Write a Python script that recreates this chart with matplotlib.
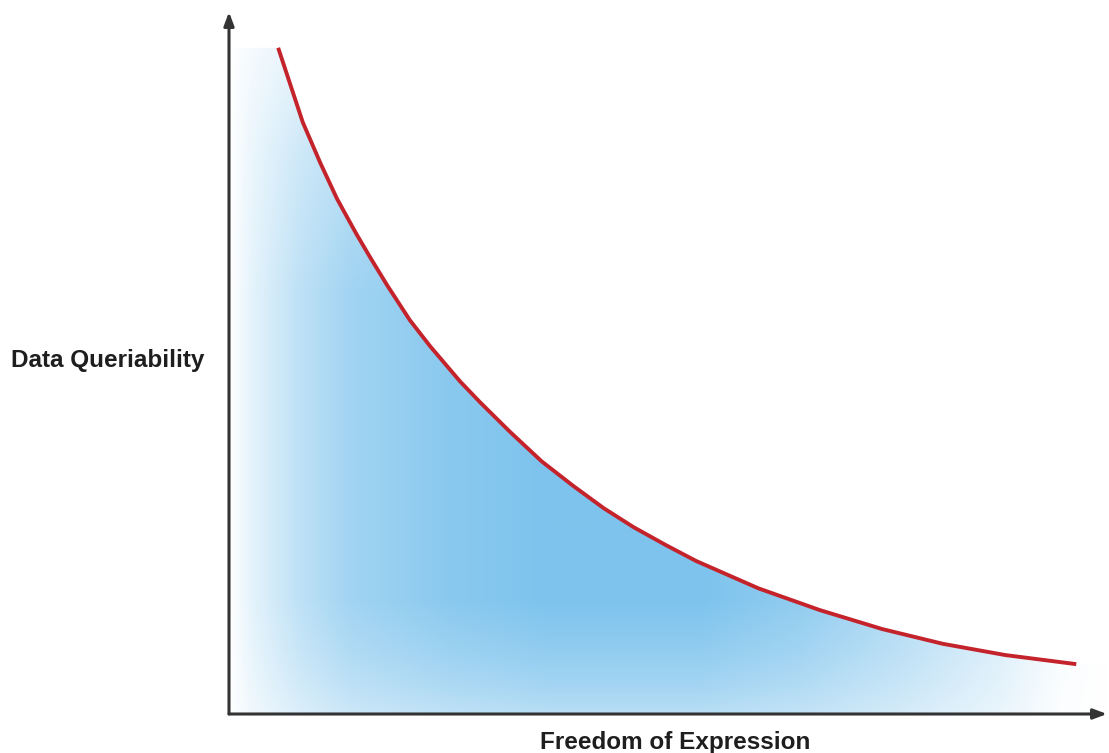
import numpy as np
import matplotlib
matplotlib.use("Agg")
import matplotlib.pyplot as plt
from matplotlib.patches import Polygon

# ===============================
# DATA (curve, axis units 0..100)
# ===============================
freedom = [5.6, 8.4, 10.4, 12.3, 14.5, 16.1, 18.0, 20.6, 22.9, 26.3, 28.6, 32.0,
           35.6, 39.2, 42.7, 46.1, 49.7, 53.2, 60.3, 67.3, 74.4, 81.3, 88.4, 96.5]
queriability = [94.9, 84.3, 78.5, 73.4, 68.4, 65.0, 61.1, 56.1, 52.4, 47.4, 44.4, 40.2,
                36.0, 32.5, 29.3, 26.6, 24.1, 21.8, 17.9, 14.8, 12.1, 10.0, 8.4, 7.1]

x_label = "Freedom of Expression"
y_label = "Data Queriability"

# ===============================
# FIGURE
# ===============================
W, H = 1109, 753
fig = plt.figure(figsize=(W / 100, H / 100), dpi=100)
ax = fig.add_axes([229 / W, (H - 714) / H, (1107 - 229) / W, (714 - 12) / H])
ax.set_xlim(0, 100)
ax.set_ylim(0, 100)
ax.axis("off")

# blue gradient under the curve (fades out at the edges)
gx = np.linspace(0, 100, 600)
gy = np.linspace(0, 100, 500)
fx = np.interp(gx, [0, 2.5, 8, 13.8, 25, 36.5, 53.6, 65, 76.4, 87.8, 94.6, 100],
               [0, 0.2, 0.5, 0.72, 0.9, 1, 1, 0.85, 0.6, 0.3, 0.05, 0])
fy = np.interp(gy, [0, 4, 9.1, 16.2, 60, 80, 96, 100], [0.55, 0.7, 0.85, 1, 1, 0.75, 0.35, 0.3])
inten = fy[:, None] * fx[None, :]
dark = np.array([125, 195, 237]) / 255.0
rgb = 1 - inten[..., None] * (1 - dark)
im = ax.imshow(rgb, extent=(0, 100, 0, 100), origin="lower", aspect="auto",
               interpolation="bilinear", zorder=1)
poly_pts = [(0, 0), (0, queriability[0])] + list(zip(freedom, queriability)) + \
           [(100, queriability[-1]), (100, 0)]
clip = Polygon(poly_pts, closed=True, transform=ax.transData, facecolor="none", edgecolor="none")
ax.add_patch(clip)
im.set_clip_path(clip)

# curve
ax.plot(freedom, queriability, color="#c4232b", lw=2.8, solid_capstyle="butt",
        solid_joinstyle="round", zorder=3)

# axes with arrows
arrow = dict(arrowstyle="-|>,head_length=0.8,head_width=0.3", color="#333333",
             lw=2.2, shrinkA=0, shrinkB=0)
ax.annotate("", xy=(0, 1), xytext=(0, 0), xycoords="axes fraction",
            arrowprops=arrow, annotation_clip=False, zorder=4)
ax.annotate("", xy=(1, 0), xytext=(0, 0), xycoords="axes fraction",
            arrowprops=arrow, annotation_clip=False, zorder=4)

# labels
fig.text(108 / W, 1 - 361 / H, y_label, ha="center", va="center",
         fontsize=17.5, fontweight="bold", family="Liberation Sans", color="#1e1e1e")
fig.text(675 / W, 1 - 742 / H, x_label, ha="center", va="center",
         fontsize=17.5, fontweight="bold", family="Liberation Sans", color="#1e1e1e")

fig.savefig("out.png", dpi=100)
